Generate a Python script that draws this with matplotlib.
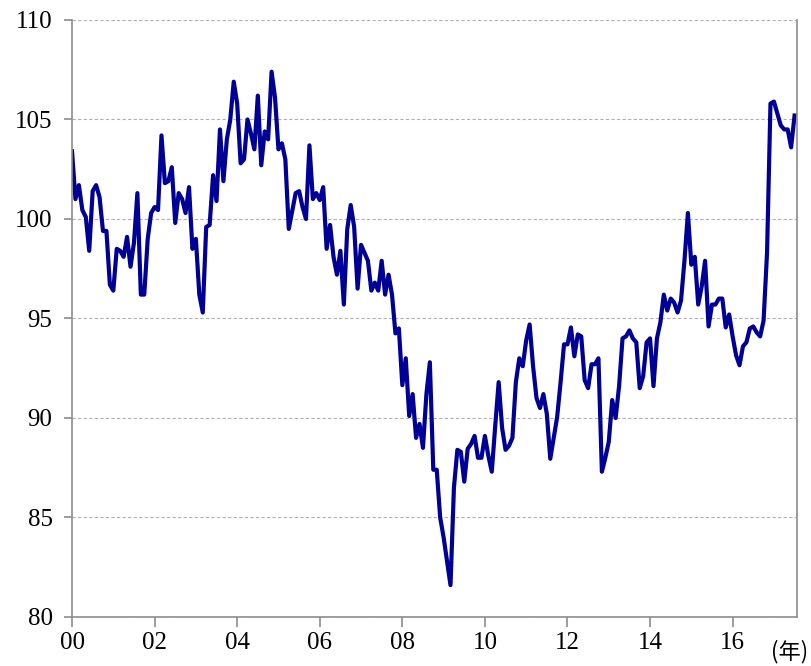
import matplotlib
matplotlib.use("Agg")
import matplotlib.pyplot as plt
import numpy as np

# monthly index values, Jan 2000 onward
values = [
    103.4, 101.0, 101.7, 100.45, 100.1, 98.4, 101.4, 101.7, 101.1, 99.4,
    99.4, 96.7, 96.4, 98.5, 98.4, 98.1, 99.1, 97.6, 98.8, 101.3,
    96.2, 96.2, 99.0, 100.3, 100.6, 100.45, 104.2, 101.8, 101.9, 102.6,
    99.8, 101.3, 101.0, 100.3, 101.6, 98.5, 99.0, 96.2, 95.3, 99.6,
    99.7, 102.2, 100.9, 104.5, 101.9, 104.0, 105.0, 106.9, 105.8, 102.8,
    103.0, 105.0, 104.3, 103.5, 106.2, 102.7, 104.4, 104.0, 107.4, 106.1,
    103.5, 103.8, 103.0, 99.5, 100.4, 101.3, 101.4, 100.6, 100.0, 103.7,
    101.0, 101.3, 100.95, 101.6, 98.5, 99.7, 98.1, 97.2, 98.4, 95.7,
    99.5, 100.7, 99.6, 96.5, 98.7, 98.3, 97.9, 96.4, 96.8, 96.4,
    97.9, 96.2, 97.2, 96.2, 94.25, 94.5, 91.65, 93.0, 90.1, 91.2,
    89.0, 89.7, 88.5, 91.2, 92.8, 87.4, 87.4, 85.0, 84.0, 82.8,
    81.6, 86.5, 88.4, 88.3, 86.8, 88.45, 88.7, 89.1, 88.0, 88.0,
    89.1, 88.1, 87.3, 89.6, 91.8, 89.5, 88.4, 88.6, 89.0, 91.8,
    93.0, 92.6, 93.9, 94.7, 92.6, 91.0, 90.5, 91.2, 90.2, 87.95,
    89.0, 90.05, 91.8, 93.7, 93.7, 94.55, 93.1, 94.2, 94.1, 91.9,
    91.5, 92.7, 92.7, 93.0, 87.3, 88.0, 88.8, 90.9, 90.0, 91.6,
    94.0, 94.1, 94.4, 94.0, 93.8, 91.5, 92.1, 93.8, 94.0, 91.6,
    94.0, 94.8, 96.2, 95.4, 96.0, 95.8, 95.3, 95.9, 97.9, 100.3,
    97.7, 98.1, 95.7, 96.6, 97.9, 94.6, 95.7, 95.7, 96.0, 96.0,
    94.55, 95.2, 94.1, 93.15, 92.65, 93.6, 93.8, 94.5, 94.6, 94.3,
    94.1, 94.9, 98.3, 105.8, 105.9, 105.3, 104.7, 104.5, 104.5, 103.6,
    105.2,
]
year_labels = ["00", "02", "04", "06", "08", "10", "12", "14", "16"]
y_ticks = [80, 85, 90, 95, 100, 105, 110]

plt.rcParams['font.family'] = ['Liberation Serif', 'Noto Sans CJK JP']

fig = plt.figure(figsize=(8.11, 6.66), dpi=100)
ax = fig.add_axes([0.0888, 0.0736, 0.8939, 0.8964])

x = np.arange(len(values))
ax.plot(x, values, color='#000096', linewidth=3.0, solid_joinstyle='round')

ax.set_xlim(0, 210.7)
ax.set_ylim(80, 110)
ax.set_xticks(np.arange(len(year_labels)) * 24)
ax.set_xticklabels(year_labels)
ax.set_yticks(y_ticks)

ax.grid(axis='y', color='#b0b0b0', linestyle=(0, (3, 2)), linewidth=0.8)
ax.set_axisbelow(True)

for side in ['left', 'bottom', 'right']:
    ax.spines[side].set_color('#8c8c8c')
    ax.spines[side].set_linewidth(1.2)
ax.spines['top'].set_visible(False)

ax.tick_params(axis='x', direction='out', length=7, width=1.2, color='#8c8c8c',
               labelsize=18, pad=4)
ax.tick_params(axis='y', direction='out', length=6, width=1.2, color='#8c8c8c',
               labelsize=18, pad=8)

ax.text(1.016, -0.058, '(年)', transform=ax.transAxes, ha='right', va='center',
        fontsize=16, family=['Noto Sans CJK JP'])

fig.savefig('out.png', dpi=100)
